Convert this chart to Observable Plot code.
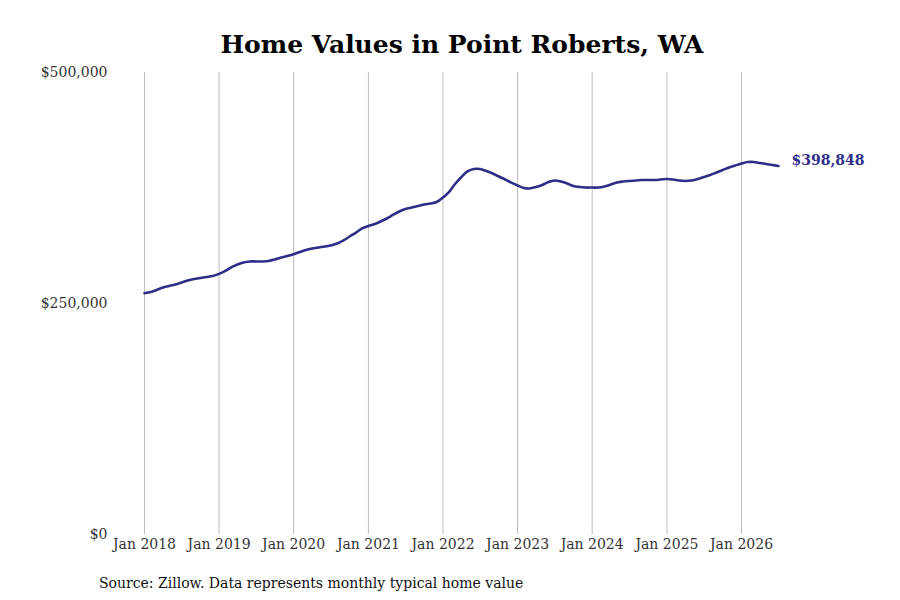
<!DOCTYPE html>
<html>
<head>
<meta charset="utf-8">
<script src="https://cdn.jsdelivr.net/npm/d3@7"></script>
<script src="https://cdn.jsdelivr.net/npm/@observablehq/plot@0.6"></script>
<style>
  body { margin: 0; background: #fff; width: 900px; height: 600px; overflow: hidden; }
  #title { font-family: "DejaVu Serif", serif; font-weight: bold; font-size: 25px; text-align: center; height: 55px; line-height: 55px; color: #000; box-sizing: border-box; padding-top: 17px; padding-left: 24px; white-space: nowrap; }
  #caption { font-family: "DejaVu Serif", serif; font-size: 14px; color: #111; margin-left: 99px; margin-top: 11px; }
  svg { display: block; }
</style>
</head>
<body>
<div id="title">Home Values in Point Roberts, WA</div>
<div id="chart"></div>
<div id="caption">Source: Zillow. Data represents monthly typical home value</div>
<script>
const startMonth = "2018-01-01";
// Monthly typical home value (USD), Jan 2018 – Jul 2026
const values = [
  261100, 262400, 264600, 267300, 268900, 270600, 272700, 274900, 276500, 277600, 278700, 279800,
  282100, 285200, 289000, 292200, 294400, 295500, 295500, 295500, 296000, 297600, 299800, 301400,
  303400, 305700, 307900, 309500, 310600, 311700, 312800, 314900, 318200, 322500, 326800, 331200,
  333900, 336000, 338700, 342000, 345800, 349600, 352300, 353900, 355500, 357100, 358200, 359800,
  364700, 371200, 379300, 386900, 392900, 395600, 395600, 393400, 390700, 387400, 384200, 380900,
  377700, 375000, 374500, 376100, 378200, 381500, 383100, 382000, 379900, 377200, 376100, 375500,
  375500, 375500, 376600, 378800, 381000, 382000, 382600, 383100, 383700, 383700, 383700, 384200,
  384700, 384200, 383100, 382600, 383100, 384700, 386900, 389100, 391800, 394500, 397200, 399400,
  401500, 403100, 403100, 402100, 401000, 399900, 398848
];
const yTicks = [0, 250000, 500000];
const xTickYears = [2018, 2019, 2020, 2021, 2022, 2023, 2024, 2025, 2026];
const lineColor = "#2e2e88";

const start = new Date(startMonth);
const data = values.map((v, i) => ({ date: d3.utcMonth.offset(start, i), value: v }));
const last = data[data.length - 1];
const tickDates = xTickYears.map(y => new Date(Date.UTC(y, 0, 1)));
const fmt = d3.format("$,");

const chart = Plot.plot({
  width: 900,
  height: 509,
  marginTop: 17,
  marginBottom: 30,
  marginLeft: 144,
  marginRight: 122,
  style: { fontFamily: "DejaVu Serif", fontSize: "14px", background: "#fff" },
  x: { type: "utc", domain: [data[0].date, last.date], ticks: tickDates, tickFormat: d => "Jan " + d.getUTCFullYear(), tickSize: 0, tickPadding: 5, label: null },
  y: { domain: [0, 500000], ticks: yTicks, tickFormat: fmt, tickSize: 0, tickPadding: 37, label: null },
  marks: [
    Plot.ruleX(tickDates, { x: d => d, y1: 0, y2: 500000, stroke: "#bdbdbd", strokeWidth: 1 }),
    Plot.lineY(data, { x: "date", y: "value", stroke: lineColor, strokeWidth: 2.6, curve: "catmull-rom" }),
    Plot.text([last], { x: "date", y: "value", text: d => fmt(d.value), dx: 13, dy: -5, textAnchor: "start", fill: lineColor, fontWeight: "bold", fontSize: 14 })
  ]
});
chart.querySelectorAll("[aria-label='x-axis tick label'] text, [aria-label='y-axis tick label'] text").forEach(t => t.setAttribute("fill", "#333"));
document.getElementById("chart").appendChild(chart);
</script>
</body>
</html>
